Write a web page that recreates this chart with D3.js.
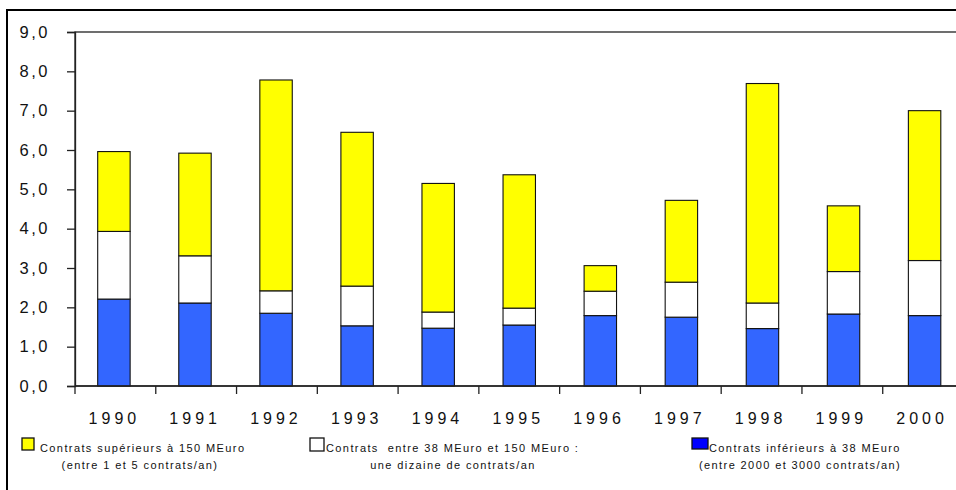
<!DOCTYPE html>
<html>
<head>
<meta charset="utf-8">
<script src="https://cdn.jsdelivr.net/npm/d3@7"></script>
<style>
  body { margin: 0; background: #fff; }
  svg { display: block; font-family: "Liberation Sans", Arial, sans-serif; }
</style>
</head>
<body>
<div id="chart"></div>
<script>
const years = ["1990", "1991", "1992", "1993", "1994", "1995", "1996", "1997", "1998", "1999", "2000"];
// contrats inférieurs à 38 MEuro
const small = [2.21, 2.11, 1.85, 1.53, 1.47, 1.55, 1.79, 1.75, 1.46, 1.83, 1.79];
// contrats entre 38 et 150 MEuro
const medium = [1.72, 1.20, 0.57, 1.01, 0.41, 0.43, 0.62, 0.89, 0.65, 1.08, 1.40];
// contrats supérieurs à 150 MEuro
const large = [2.03, 2.61, 5.36, 3.91, 3.27, 3.39, 0.65, 2.08, 5.58, 1.67, 3.81];
const yTicks = [0, 1, 2, 3, 4, 5, 6, 7, 8, 9];

const width = 956, height = 490;
const margin = { top: 32, left: 75, bottom: 386, right: 963.5 };

const svg = d3.select("#chart").append("svg")
    .attr("width", width)
    .attr("height", height);

// outer frame (cut on the right / bottom like the original)
svg.append("rect")
    .attr("x", 7).attr("y", 10)
    .attr("width", 960).attr("height", 490)
    .attr("fill", "none")
    .attr("stroke", "#000")
    .attr("stroke-width", 2);

const x = d3.scaleBand()
    .domain(years)
    .range([margin.left, margin.right])
    .paddingInner(0.6)
    .paddingOuter(0.28)
    .align(0.5);

const xCell = d3.scaleBand()
    .domain(years)
    .range([margin.left, margin.right]);

const y = d3.scaleLinear()
    .domain([0, 9])
    .range([margin.bottom, margin.top]);

// plot area frame
svg.append("rect")
    .attr("x", margin.left).attr("y", y(9))
    .attr("width", margin.right - margin.left)
    .attr("height", y(0) - y(9))
    .attr("fill", "none")
    .attr("stroke", "#222")
    .attr("stroke-width", 1.3);

const stack = d3.stack().keys(["small", "medium", "large"]);
const rows = years.map((yr, i) => ({ year: yr, small: small[i], medium: medium[i], large: large[i] }));
const series = stack(rows);
const colors = { small: "#3366ff", medium: "#ffffff", large: "#ffff00" };

svg.append("g").selectAll("g")
  .data(series)
  .join("g")
    .attr("fill", d => colors[d.key])
  .selectAll("rect")
  .data(d => d)
  .join("rect")
    .attr("x", d => x(d.data.year))
    .attr("width", x.bandwidth())
    .attr("y", d => y(d[1]))
    .attr("height", d => y(d[0]) - y(d[1]))
    .attr("stroke", "#111")
    .attr("stroke-width", 1.1);

// y axis
const yAxis = svg.append("g")
    .attr("transform", "translate(" + margin.left + ",0)")
    .call(d3.axisLeft(y).tickValues(yTicks).tickSize(8).tickPadding(17)
      .tickFormat(d => d3.format(".1f")(d).replace(".", ",")));
yAxis.select(".domain").attr("stroke", "#222").attr("stroke-width", 1.3);
yAxis.selectAll(".tick line").attr("stroke", "#222").attr("stroke-width", 1.3);
yAxis.selectAll("text")
    .attr("font-size", 16.5)
    .attr("fill", "#111")
    .style("font-family", "Liberation Sans, Arial, sans-serif")
    .style("letter-spacing", "2.5px");

// x axis: ticks on category boundaries
const xg = svg.append("g");
xg.append("line")
    .attr("x1", margin.left).attr("x2", margin.right)
    .attr("y1", y(0)).attr("y2", y(0))
    .attr("stroke", "#222").attr("stroke-width", 1.3);
xg.selectAll(".xt")
  .data(years)
  .join("line")
    .attr("class", "xt")
    .attr("x1", d => xCell(d)).attr("x2", d => xCell(d))
    .attr("y1", y(0)).attr("y2", y(0) + 8)
    .attr("stroke", "#222").attr("stroke-width", 1.3);
xg.selectAll(".xl")
  .data(years)
  .join("text")
    .attr("class", "xl")
    .attr("x", d => xCell(d) + xCell.bandwidth() / 2 - 1)
    .attr("y", 424)
    .attr("text-anchor", "middle")
    .attr("font-size", 16)
    .attr("fill", "#111")
    .style("letter-spacing", "4px")
    .text(d => d);

// legend
const legend = [
  { fill: "#ffff00", sx: 22, sy: 438, sw: 12, sh: 12, tx: 40, lines: ["Contrats supérieurs à 150 MEuro", "(entre 1 et 5 contrats/an)"], cx: 140 },
  { fill: "#ffffff", sx: 310, sy: 438, sw: 14, sh: 13, tx: 326, lines: ["Contrats  entre 38 MEuro et 150 MEuro :", "une dizaine de contrats/an"], cx: 453 },
  { fill: "#0000ff", sx: 692, sy: 438, sw: 16, sh: 11, tx: 709, lines: ["Contrats inférieurs à 38 MEuro", "(entre 2000 et 3000 contrats/an)"], cx: 800 }
];
const lg = svg.append("g").selectAll("g").data(legend).join("g");
lg.append("rect")
    .attr("x", d => d.sx).attr("y", d => d.sy)
    .attr("width", d => d.sw).attr("height", d => d.sh)
    .attr("fill", d => d.fill)
    .attr("stroke", "#111").attr("stroke-width", 1.3);
lg.append("text")
    .attr("x", d => d.tx).attr("y", 452)
    .attr("font-size", 11).attr("fill", "#111")
    .style("letter-spacing", "1.4px")
    .style("white-space", "pre")
    .text(d => d.lines[0]);
lg.append("text")
    .attr("x", d => d.cx).attr("y", 469)
    .attr("text-anchor", "middle")
    .attr("font-size", 11).attr("fill", "#111")
    .style("letter-spacing", "1.4px")
    .text(d => d.lines[1]);
</script>
</body>
</html>
